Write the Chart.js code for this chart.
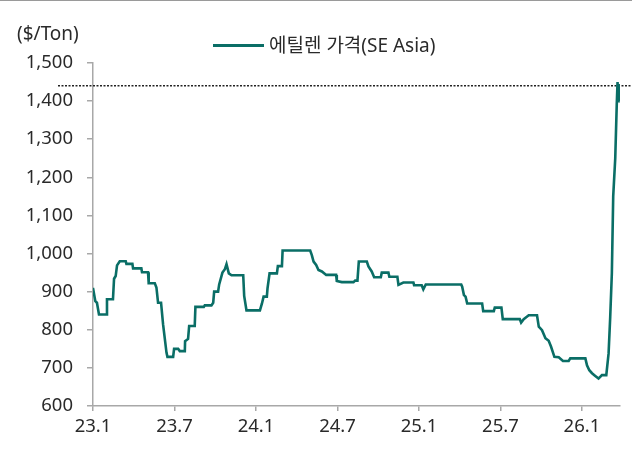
<!DOCTYPE html>
<html>
<head>
<meta charset="utf-8">
<script src="https://cdn.jsdelivr.net/npm/chart.js@4.4.1/dist/chart.umd.min.js"></script>
<style>
  html, body { margin: 0; padding: 0; background: #fff; }
  body { width: 632px; height: 452px; position: relative; overflow: hidden; font-family: "Noto Sans", "Noto Sans CJK KR", sans-serif; color: #2a2a2a; }
  #topRule { position: absolute; left: 0; top: 0; width: 632px; height: 1px; background: #9a9a9a; }
  #unit { position: absolute; left: 17px; top: 19px; font-size: 19px; line-height: 28px; }
  #legend { position: absolute; left: 213px; top: 31px; font-size: 19px; line-height: 28px; display: flex; align-items: center; }
  #legend .swatch { width: 51px; height: 3px; background: #0a6e66; margin-right: 5px; }
  #wrap { position: absolute; left: 0; top: 0; width: 632px; height: 452px; }
</style>
</head>
<body>
<div id="topRule"></div>
<div id="wrap"><canvas id="chart" width="632" height="452"></canvas></div>
<div id="unit">($/Ton)</div>
<div id="legend"><span class="swatch"></span><span>에틸렌 가격(SE Asia)</span></div>
<script>
// months since 2023.01 and price ($/ton)
const months = [
  0, 0.17, 0.29, 0.44, 0.98, 1.03, 1.47, 1.55, 1.67, 1.77, 1.97, 2.41, 2.46, 2.90, 2.95, 3.56,
  3.61, 4.05, 4.10, 4.55, 4.67, 4.79, 5.01, 5.16, 5.41, 5.48, 5.90, 5.97, 6.27, 6.39, 6.76, 6.78,
  7.00, 7.08, 7.49, 7.54, 8.16, 8.23, 8.72, 8.85, 8.92, 9.21, 9.29, 9.53, 9.71, 9.83, 10.0, 10.2,
  11.06, 11.13, 11.30, 12.29, 12.44, 12.56, 12.80, 12.85, 13.0, 13.54, 13.61, 13.91, 13.96, 15.99,
  16.11, 16.24, 16.43, 16.60, 16.85, 17.17, 17.90, 17.95, 18.32, 19.18, 19.30, 19.47, 19.57, 20.16,
  20.28, 20.52, 20.70, 21.19, 21.26, 21.75, 21.82, 22.41, 22.49, 22.85, 23.59, 23.64, 24.20, 24.32,
  24.50, 27.11, 27.18, 27.31, 27.43, 27.55, 28.65, 28.73, 29.51, 29.58, 30.07, 30.17, 31.42, 31.52,
  31.71, 32.08, 32.69, 32.82, 33.06, 33.31, 33.55, 33.72, 33.97, 34.29, 34.60, 35.02, 35.14, 36.25,
  36.37, 36.54, 36.74, 36.98, 37.22, 37.47, 37.79, 37.96, 38.08, 38.20, 38.30, 38.45, 38.56, 38.62,
  38.66, 38.70, 38.75, 38.80
];
const price = [
  910, 875, 871, 840, 840, 880, 880, 934, 941, 969, 980, 980, 973, 973, 961, 961,
  951, 951, 922, 922, 911, 871, 871, 814, 740, 729, 729, 750, 750, 744, 744, 770,
  776, 810, 810, 860, 860, 864, 864, 871, 900, 900, 919, 950, 959, 972, 948, 943,
  943, 889, 851, 851, 869, 887, 887, 909, 948, 948, 967, 967, 1008, 1008,
  996, 979, 970, 957, 953, 944, 944, 928, 925, 925, 929, 929, 979, 979,
  966, 953, 938, 938, 950, 950, 939, 939, 918, 924, 924, 917, 917, 906,
  919, 919, 913, 891, 887, 869, 869, 849, 849, 858, 858, 828, 828, 819,
  828, 838, 838, 808, 799, 778, 771, 756, 729, 728, 718, 718, 725, 725,
  707, 694, 686, 679, 672, 681, 681, 738, 834, 948, 1150, 1250, 1390, 1450,
  1400, 1445, 1410, 1400
];
const tickMonths = [0, 6, 12, 18, 24, 30, 36];
const tickLabels = ['23.1', '23.7', '24.1', '24.7', '25.1', '25.7', '26.1'];
const refLevel = 1440;

const axisGray = '#a8a8a8';
const tickFont = { family: '"Noto Sans", sans-serif', size: 18.5 };

const refLine = {
  id: 'refLine',
  beforeDatasetsDraw(chart) {
    const y = chart.scales.y.getPixelForValue(refLevel);
    const ctx = chart.ctx;
    ctx.save();
    ctx.strokeStyle = '#222';
    ctx.lineWidth = 1.5;
    ctx.setLineDash([2, 1.5]);
    ctx.beginPath();
    ctx.moveTo(58, y);
    ctx.lineTo(chart.width, y);
    ctx.stroke();
    ctx.restore();
  }
};

new Chart(document.getElementById('chart'), {
  type: 'line',
  data: {
    datasets: [{
      label: '에틸렌 가격(SE Asia)',
      data: months.map((m, i) => ({ x: m, y: price[i] })),
      borderColor: '#0a6e66',
      borderWidth: 2.6,
      pointRadius: 0,
      tension: 0,
      fill: false
    }]
  },
  options: {
    responsive: false,
    animation: false,
    layout: { padding: { top: 63, right: 12, left: 0, bottom: 0 } },
    plugins: { legend: { display: false }, tooltip: { enabled: false } },
    scales: {
      x: {
        type: 'linear',
        min: 0,
        max: 38.8,
        afterBuildTicks(scale) { scale.ticks = tickMonths.map(v => ({ value: v })); },
        afterFit(scale) { scale.height = 46; },
        ticks: {
          callback: (v) => tickLabels[tickMonths.indexOf(v)],
          color: '#2a2a2a',
          font: tickFont,
          padding: 5,
          maxRotation: 0
        },
        grid: { drawOnChartArea: false, drawTicks: true, tickLength: 5, color: axisGray, lineWidth: 1.5 },
        border: { color: axisGray, width: 1.5 }
      },
      y: {
        min: 600,
        max: 1500,
        afterFit(scale) { scale.width = 93; },
        ticks: {
          stepSize: 100,
          callback: (v) => v.toLocaleString('en-US'),
          color: '#2a2a2a',
          font: tickFont,
          padding: 14
        },
        grid: { drawOnChartArea: false, drawTicks: true, tickLength: 6, color: axisGray, lineWidth: 1.5 },
        border: { color: axisGray, width: 1.5 }
      }
    }
  },
  plugins: [refLine]
});
</script>
</body>
</html>
